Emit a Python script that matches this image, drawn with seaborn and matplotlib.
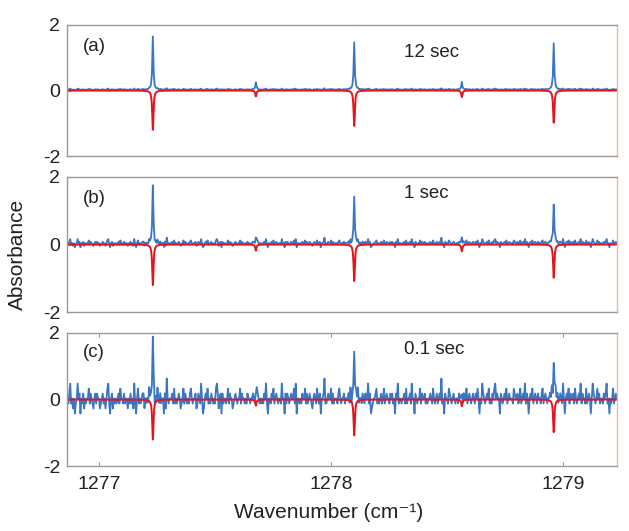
import numpy as np
import pandas as pd
import matplotlib
matplotlib.use("Agg")
import matplotlib.pyplot as plt
import seaborn as sns

# ---------------- data ----------------
panel_labels = ["(a)", "(b)", "(c)"]
time_labels = ["12 sec", "1 sec", "0.1 sec"]
x_ticks = [1277, 1278, 1279]
y_ticks = [-2, 0, 2]
x_start = 1276.86          # first sample of the measured trace
x_step = 0.004             # sample spacing (cm-1)
peak_centers = [1277.232, 1277.676, 1278.100, 1278.564, 1278.960]
blue_heights_a = [1.62, 0.22, 1.44, 0.23, 1.41]
blue_heights_b = [1.71, 0.17, 1.38, 0.17, 1.14]
blue_heights_c = [1.86, 0.16, 1.41, 0.13, 1.07]
red_heights = [-1.20, -0.18, -1.08, -0.20, -0.98]
blue_width = 0.0026
red_width = 0.0032
baseline_offset = [0.03, 0.04, 0.03]
noise_amp = [0.05, 0.20, 0.75]
# measured noise residual, one digit per sample (0-9 scale, 5 = zero)
noise_digits = (
    "554684535245856254635455746543564655345645357842563545456475"
    "546455354645384257454566354547554563547546455263954555647454"
    "565345746545467545563465485235657454654547863562645545746553"
    "456545574655454655455654576545454658425546574565455485526465"
    "456557482554546557464565435654754625569445655746455546754556"
    "455564745555657455465465584623455674545645745655465645265845"
    "545564745564855265455746556454556547545645659452655476545654"
    "554655546557456545654657525486545657454657856552654565745655"
    "547655645745658465256574565465546745654556574567564565485256"
    "574655647545658465547456525865457564554656845254574565574654"
    "546574556547864265745645657465475654566454856256574565475465"
)

blue_heights = [blue_heights_a, blue_heights_b, blue_heights_c]

# ---------------- build traces ----------------
digits = np.array([int(c) for c in noise_digits], dtype=float)
n = len(digits)
x_meas = x_start + x_step * np.arange(n)
x_sim = np.linspace(1276.80, 1279.30, 8000)


def lorentz(x, centers, heights, g):
    y = np.zeros_like(x)
    for c, h in zip(centers, heights):
        y += h * g ** 2 / ((x - c) ** 2 + g ** 2)
    return y


red_trace = lorentz(x_sim, peak_centers, red_heights, red_width)

# ---------------- figure ----------------
sns.set_style("white")
plt.rcParams["font.family"] = ["Liberation Sans", "DejaVu Sans"]
plt.rcParams["axes.unicode_minus"] = False

blue = "#3a76c4"
red = "#e3141b"
frame = "#9a9a9a"
txt = "#222222"

fig = plt.figure(figsize=(6.29, 5.31), dpi=100)
rects = [(0.1065, 0.706, 0.8745, 0.247),
         (0.1065, 0.412, 0.8745, 0.255),
         (0.1065, 0.122, 0.8745, 0.251)]
text_y = [1.16, 1.51, 1.50]
label_y = [1.34, 1.36, 1.41]

for i, r in enumerate(rects):
    ax = fig.add_axes(r)
    noise = noise_amp[i] * (digits - 5.0) / 5.0
    blue_trace = baseline_offset[i] + noise + lorentz(x_meas, peak_centers,
                                                     blue_heights[i], blue_width)
    df_b = pd.DataFrame({"x": x_meas, "y": blue_trace})
    df_r = pd.DataFrame({"x": x_sim, "y": red_trace})
    sns.lineplot(data=df_b, x="x", y="y", ax=ax, color=blue, lw=1.3,
                 estimator=None, sort=False)
    sns.lineplot(data=df_r, x="x", y="y", ax=ax, color=red, lw=1.4,
                 estimator=None, sort=False)
    ax.set_xlim(1276.862, 1279.233)
    ax.set_ylim(-2, 2)
    ax.set_yticks(y_ticks)
    ax.set_yticklabels([str(t) for t in y_ticks])
    ax.set_xticks(x_ticks)
    ax.set_xlabel("")
    ax.set_ylabel("")
    for s in ["left", "top", "bottom"]:
        ax.spines[s].set_color(frame)
        ax.spines[s].set_linewidth(1.0)
    ax.spines["right"].set_color("#f2b89c")
    ax.spines["right"].set_linewidth(1.0)
    ax.tick_params(axis="y", direction="in", length=3, color=frame,
                   labelsize=14, pad=5, left=True, labelcolor=txt)
    if i < 2:
        ax.tick_params(axis="x", bottom=False, top=False, labelbottom=False)
    else:
        ax.set_xticklabels([str(t) for t in x_ticks])
        ax.tick_params(axis="x", direction="in", length=3, color=frame,
                       labelsize=14, pad=7, bottom=True, top=True,
                       labelcolor=txt)
    ax.text(1276.93, label_y[i], panel_labels[i], fontsize=13.5,
            ha="left", va="center", color=txt)
    ax.text(1278.315, text_y[i], time_labels[i], fontsize=13.5,
            ha="left", va="center", color=txt)

fig.text(0.027, 0.52, "Absorbance", rotation=90, fontsize=15,
         ha="center", va="center", color=txt)
fig.text(0.523, 0.034, "Wavenumber (cm\u207b\u00b9)", fontsize=15,
         ha="center", va="center", color=txt,
         family=["Liberation Sans", "DejaVu Sans"])

fig.savefig("out.png", dpi=100)
